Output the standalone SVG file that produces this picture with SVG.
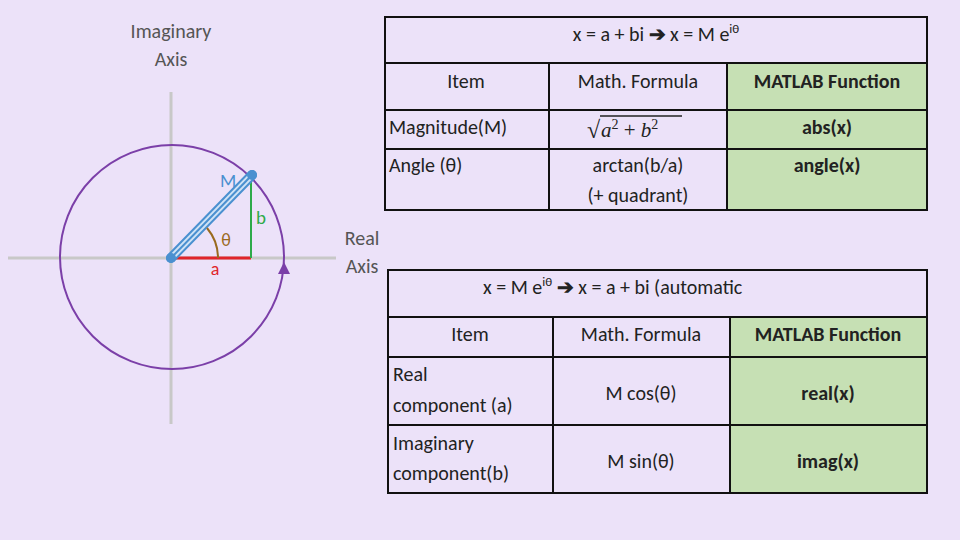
<svg xmlns="http://www.w3.org/2000/svg" width="960" height="540" viewBox="0 0 960 540">
<style>
text{font-family:Carlito,"Liberation Sans",sans-serif;fill:#222}
.t{font-size:20px}
.b{font-weight:bold}
.cell{fill:none;stroke:#111;stroke-width:2}
.g{fill:#c6e0b4}
.ax{stroke:#c8c8c8;stroke-width:3}
</style>
<rect width="960" height="540" fill="#ece2f9"/>
<g id="plane">
<line class="ax" x1="8" y1="258" x2="336" y2="258"/>
<line class="ax" x1="171" y1="92" x2="171" y2="424"/>
<circle cx="172" cy="257" r="112" fill="none" stroke="#7b3fa8" stroke-width="2"/>
<polygon points="284,262 278,274 290,274" fill="#7b3fa8"/>
<line x1="171" y1="258" x2="251" y2="258" stroke="#e0242b" stroke-width="3"/>
<line x1="251" y1="176" x2="251" y2="258" stroke="#2eaa4a" stroke-width="2"/>
<line x1="171" y1="258" x2="252" y2="175" stroke="#4a90d0" stroke-width="10" stroke-linecap="round"/>
<line x1="171" y1="258" x2="252" y2="175" stroke="#cfe3f6" stroke-width="6"/>
<line x1="171" y1="258" x2="252" y2="175" stroke="#4a90d0" stroke-width="2"/>
<circle cx="252" cy="175" r="5" fill="#4a90d0"/>
<circle cx="171" cy="258" r="5" fill="#4a90d0"/>
<path d="M218,258 A47,47 0 0 0 207,228" fill="none" stroke="#9a6a1e" stroke-width="2"/>
<text x="228" y="187" font-size="19" fill="#4a90d0" style="fill:#4a90d0" text-anchor="middle">M</text>
<text x="261" y="224" font-size="19" style="fill:#2eaa4a" text-anchor="middle">b</text>
<text x="226" y="246" font-size="18" style="fill:#9a6a1e" text-anchor="middle">θ</text>
<text x="215" y="275" font-size="18" style="fill:#e0242b" text-anchor="middle">a</text>
<text x="171" y="38" class="t" text-anchor="middle" style="fill:#555" font-size="19">Imaginary</text>
<text x="171" y="66" class="t" text-anchor="middle" style="fill:#555" font-size="19">Axis</text>
<text x="362" y="245" class="t" text-anchor="middle" style="fill:#555" font-size="19">Real</text>
<text x="362" y="273" class="t" text-anchor="middle" style="fill:#555" font-size="19">Axis</text>
</g>
<g id="table1">
<rect class="g" x="727" y="63" width="200" height="147"/>
<rect class="cell" x="385" y="17" width="542" height="193"/>
<line class="cell" x1="385" y1="63" x2="927" y2="63"/>
<line class="cell" x1="385" y1="110" x2="927" y2="110"/>
<line class="cell" x1="385" y1="149" x2="927" y2="149"/>
<line class="cell" x1="549" y1="63" x2="549" y2="210"/>
<line class="cell" x1="727" y1="63" x2="727" y2="210"/>
<text x="656" y="41" class="t" text-anchor="middle">x = a + bi   <tspan font-weight="bold">➔</tspan>   x = M e<tspan font-size="13" dy="-8">iθ</tspan></text>
<text x="466" y="88" class="t" text-anchor="middle">Item</text>
<text x="638" y="88" class="t" text-anchor="middle">Math. Formula</text>
<text x="827" y="88" class="t b" text-anchor="middle">MATLAB Function</text>
<text x="389" y="134" class="t">Magnitude(M)</text>
<text x="587" y="138" font-size="24" style="font-family:'Liberation Serif',serif">√</text>
<line x1="600" y1="116" x2="682" y2="116" stroke="#222" stroke-width="1.3"/>
<text x="601" y="137" font-size="21" style="font-family:'Liberation Serif',serif;font-style:italic">a<tspan font-size="14" dy="-8" font-style="normal">2</tspan><tspan dy="8" font-style="normal"> + </tspan>b<tspan font-size="14" dy="-8" font-style="normal">2</tspan></text>
<text x="827" y="134" class="t b" text-anchor="middle">abs(x)</text>
<text x="389" y="172" class="t">Angle (θ)</text>
<text x="638" y="172" class="t" text-anchor="middle">arctan(b/a)</text>
<text x="638" y="202" class="t" text-anchor="middle">(+ quadrant)</text>
<text x="827" y="172" class="t b" text-anchor="middle">angle(x)</text>
</g>
<g id="table2">
<rect class="g" x="730" y="317" width="197" height="176"/>
<rect class="cell" x="388" y="270" width="539" height="223"/>
<line class="cell" x1="388" y1="317" x2="927" y2="317"/>
<line class="cell" x1="388" y1="357" x2="927" y2="357"/>
<line class="cell" x1="388" y1="425" x2="927" y2="425"/>
<line class="cell" x1="553" y1="317" x2="553" y2="493"/>
<line class="cell" x1="730" y1="317" x2="730" y2="493"/>
<text x="483" y="294" class="t">x = M e<tspan font-size="13" dy="-8">iθ</tspan><tspan dy="8">   </tspan><tspan font-weight="bold">➔</tspan>   x = a + bi   (automatic</text>
<text x="470" y="341" class="t" text-anchor="middle">Item</text>
<text x="641" y="341" class="t" text-anchor="middle">Math. Formula</text>
<text x="828" y="341" class="t b" text-anchor="middle">MATLAB Function</text>
<text x="393" y="381" class="t">Real</text>
<text x="393" y="412" class="t">component (a)</text>
<text x="641" y="400" class="t" text-anchor="middle">M cos(θ)</text>
<text x="828" y="400" class="t b" text-anchor="middle">real(x)</text>
<text x="393" y="450" class="t">Imaginary</text>
<text x="393" y="480" class="t">component(b)</text>
<text x="641" y="468" class="t" text-anchor="middle">M sin(θ)</text>
<text x="828" y="468" class="t b" text-anchor="middle">imag(x)</text>
</g>
</svg>
